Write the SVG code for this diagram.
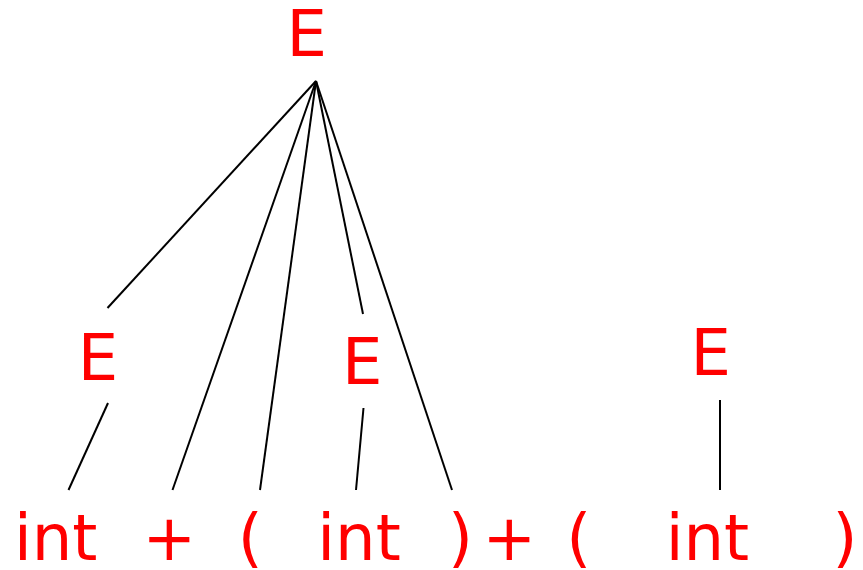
<svg xmlns="http://www.w3.org/2000/svg" width="863" height="570" viewBox="0 0 863 570">
<style>
.t{font-family:"DejaVu Sans",sans-serif;font-size:64px;fill:#ff0000}
.e{stroke:#000;stroke-width:2;fill:none;stroke-linecap:butt}
</style>
<rect width="863" height="570" fill="#fff"/>
<g id="connectors">
<line class="e" x1="316" y1="81" x2="107.5" y2="308"/>
<line class="e" x1="316" y1="81" x2="172.5" y2="490"/>
<line class="e" x1="316" y1="81" x2="260" y2="490"/>
<line class="e" x1="316" y1="81" x2="363" y2="314"/>
<line class="e" x1="316" y1="81" x2="452" y2="490"/>
<line class="e" x1="108" y1="403" x2="68.5" y2="490"/>
<line class="e" x1="363.5" y1="408" x2="356" y2="490"/>
<line class="e" x1="720" y1="400" x2="720" y2="490"/>
</g>
<g id="E_root"><text class="t" x="286.4" y="56">E</text></g>
<g id="E_left"><text class="t" x="77.7" y="380">E</text></g>
<g id="E_mid"><text class="t" x="342" y="384">E</text></g>
<g id="E_right"><text class="t" x="690.4" y="375">E</text></g>
<g id="int1"><text class="t" x="14" y="560">int</text></g>
<g id="plus1"><text class="t" x="142.5" y="560">+</text></g>
<g id="lp1"><text class="t" x="237.8" y="560">(</text></g>
<g id="int2"><text class="t" x="317.3" y="560">int</text></g>
<g id="rp1"><text class="t" x="448" y="560">)</text></g>
<g id="plus2"><text class="t" x="482.5" y="560">+</text></g>
<g id="lp2"><text class="t" x="566.2" y="560">(</text></g>
<g id="int3"><text class="t" x="665.7" y="560">int</text></g>
<g id="rp2"><text class="t" x="832.5" y="560">)</text></g>
</svg>
